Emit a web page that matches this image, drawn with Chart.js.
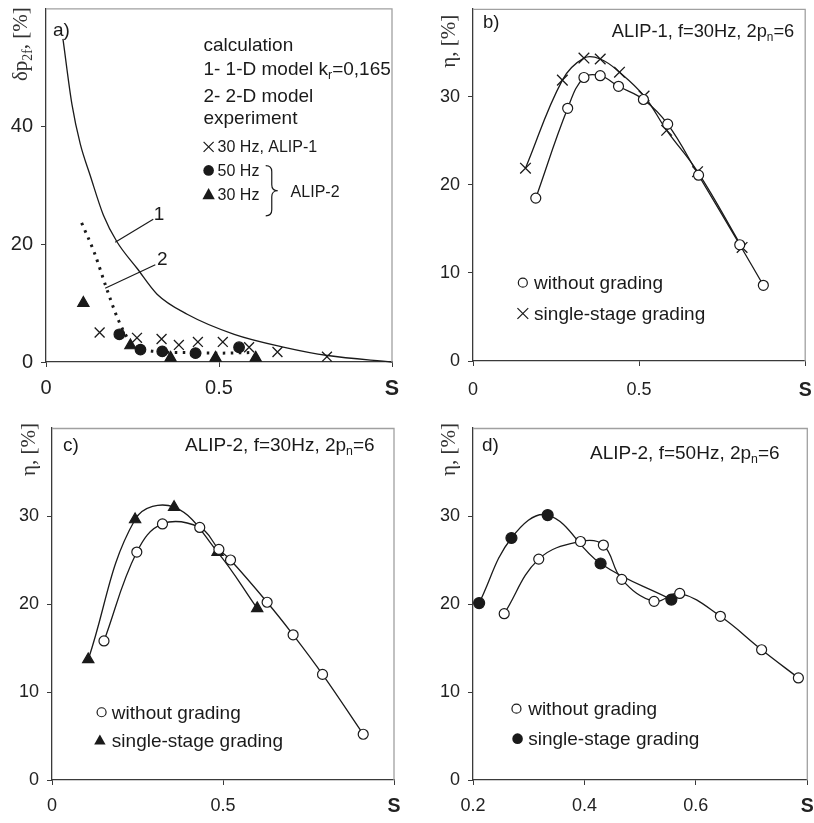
<!DOCTYPE html>
<html>
<head>
<meta charset="utf-8">
<script src="https://cdn.jsdelivr.net/npm/chart.js@4.4.1/dist/chart.umd.min.js"></script>
<style>
  html, body { margin: 0; padding: 0; background: #fff; }
  canvas { position: absolute; }
</style>
</head>
<body>
<canvas id="chartA" width="407" height="400" style="left:0;top:0"></canvas>
<canvas id="chartB" width="407" height="400" style="left:407px;top:0"></canvas>
<canvas id="chartC" width="407" height="423" style="left:0;top:400px"></canvas>
<canvas id="chartD" width="407" height="423" style="left:407px;top:400px"></canvas>
<script>
// a) additional losses vs slip: calculated curves and measured points
const aModel1S = [0.049, 0.075, 0.099, 0.128, 0.166, 0.205, 0.263, 0.321, 0.408, 0.544, 0.689, 0.814, 1.0];
const aModel1P = [54.8, 43.7, 37.0, 31.6, 24.9, 20.4, 15.9, 11.5, 8.1, 4.7, 2.5, 1.1, 0];
const aModel2S = [0.103, 0.14, 0.175, 0.21, 0.245, 0.29, 0.4, 0.5, 0.59];
const aModel2P = [23.6, 18.5, 12.5, 7.0, 3.3, 2.0, 1.6, 1.5, 1.6];
const aAlip1S = [0.155, 0.263, 0.334, 0.384, 0.439, 0.511, 0.587, 0.669, 0.812];
const aAlip1P = [5.0, 4.1, 3.9, 2.9, 3.4, 3.4, 2.5, 1.7, 0.9];
const aAlip2f50S = [0.212, 0.273, 0.336, 0.432, 0.558];
const aAlip2f50P = [4.7, 2.1, 1.8, 1.5, 2.5];
const aAlip2f30S = [0.108, 0.244, 0.36, 0.49, 0.606];
const aAlip2f30P = [10.0, 2.8, 0.7, 0.7, 0.7];

// b) ALIP-1, 30 Hz efficiency
const bPlainS = [0.189, 0.285, 0.334, 0.383, 0.438, 0.513, 0.586, 0.679, 0.803, 0.874];
const bPlainEta = [18.5, 28.7, 32.2, 32.4, 31.2, 29.7, 26.9, 21.1, 13.2, 8.6];
const bGradedS = [0.158, 0.269, 0.334, 0.383, 0.441, 0.515, 0.583, 0.676, 0.810];
const bGradedEta = [21.9, 31.9, 34.4, 34.3, 32.8, 30.1, 26.2, 21.5, 12.9];

// c) ALIP-2, 30 Hz efficiency
const cPlainS = [0.152, 0.248, 0.323, 0.432, 0.488, 0.522, 0.629, 0.705, 0.791, 0.91];
const cPlainEta = [15.8, 25.9, 29.1, 28.7, 26.2, 25.0, 20.2, 16.5, 12.0, 5.2];
const cGradedS = [0.106, 0.243, 0.357, 0.484, 0.6];
const cGradedEta = [13.7, 29.6, 31.0, 25.9, 19.5];

// d) ALIP-2, 50 Hz efficiency
const dPlainS = [0.256, 0.318, 0.393, 0.434, 0.467, 0.525, 0.571, 0.644, 0.718, 0.784];
const dPlainEta = [18.9, 25.1, 27.1, 26.7, 22.8, 20.3, 21.2, 18.6, 14.8, 11.6];
const dGradedS = [0.211, 0.269, 0.334, 0.429, 0.556];
const dGradedEta = [20.1, 27.5, 30.1, 24.6, 20.5];

// axis ticks
const aXTicks = [0, 0.5, 1];
const aYTicks = [0, 20, 40];
const bXTicks = [0, 0.5, 1];
const cXTicks = [0, 0.5, 1];
const dXTicks = [0.2, 0.4, 0.6, 0.8];
const etaTicks = [0, 10, 20, 30];

const SANS = "'Liberation Sans', Arial, sans-serif";
const SERIF = "'Liberation Serif', 'Times New Roman', serif";
const INK = '#1a1a1a';
const AXIS = '#3a3a3a';
const FRAME = '#a0a0a0';

const toPoints = (xs, ys) => xs.map((x, i) => ({ x, y: ys[i] }));

// Annotations drawn in data units (legends, labels, leaders), y titles in px from the plot edge.
const panelNotes = {
  chartA: [
    { type: 'ytitle', dx: 26, dy: -1, parts: [['δp'], ['2f', 1], [', [%]']] },
    { type: 'text', x: 0.02, y: 56.5, parts: [['a)']] },
    { type: 'text', x: 0.455, y: 53.8, parts: [['calculation']] },
    { type: 'text', x: 0.455, y: 49.8, parts: [['1- 1-D model k'], ['r', 1], ['=0,165']] },
    { type: 'text', x: 0.455, y: 45.3, parts: [['2- 2-D model']] },
    { type: 'text', x: 0.455, y: 41.5, parts: [['experiment']] },
    { type: 'mark', x: 0.47, y: 36.5, style: 'cross', r: 6.7 },
    { type: 'text', x: 0.496, y: 36.5, size: 16, parts: [['30 Hz, ALIP-1']] },
    { type: 'mark', x: 0.47, y: 32.5, style: 'dot', r: 5.3 },
    { type: 'text', x: 0.496, y: 32.5, size: 16, parts: [['50 Hz']] },
    { type: 'mark', x: 0.47, y: 28.4, style: 'triangle', r: 6.5 },
    { type: 'text', x: 0.496, y: 28.4, size: 16, parts: [['30 Hz']] },
    { type: 'brace', x1: 0.635, x2: 0.67, y1: 33.3, y2: 24.8 },
    { type: 'text', x: 0.707, y: 29, size: 16, parts: [['ALIP-2']] },
    { type: 'text', x: 0.327, y: 25.3, align: 'center', parts: [['1']] },
    { type: 'line', x1: 0.31, y1: 24.2, x2: 0.2, y2: 20.3 },
    { type: 'text', x: 0.336, y: 17.5, align: 'center', parts: [['2']] },
    { type: 'line', x1: 0.316, y1: 16.5, x2: 0.171, y2: 12.5 }
  ],
  chartB: [
    { type: 'ytitle', dx: 25, dy: 6, parts: [['η, [%]']] },
    { type: 'text', x: 0.03, y: 38.6, size: 18.5, parts: [['b)']] },
    { type: 'text', x: 0.418, y: 37.5, size: 18.3, parts: [['ALIP-1, f=30Hz, 2p'], ['n', 1], ['=6']] },
    { type: 'mark', x: 0.15, y: 8.9, style: 'ring', r: 4.5 },
    { type: 'text', x: 0.184, y: 8.9, parts: [['without grading']] },
    { type: 'mark', x: 0.15, y: 5.4, style: 'cross', r: 7.2 },
    { type: 'text', x: 0.184, y: 5.4, parts: [['single-stage grading']] }
  ],
  chartC: [
    { type: 'ytitle', dx: 24, dy: -5, parts: [['η, [%]']] },
    { type: 'text', x: 0.032, y: 38.1, parts: [['c)']] },
    { type: 'text', x: 0.389, y: 38.1, parts: [['ALIP-2, f=30Hz, 2p'], ['n', 1], ['=6']] },
    { type: 'mark', x: 0.145, y: 7.7, style: 'ring', r: 4.5 },
    { type: 'text', x: 0.175, y: 7.7, parts: [['without grading']] },
    { type: 'mark', x: 0.14, y: 4.5, style: 'triangle', r: 6 },
    { type: 'text', x: 0.175, y: 4.5, parts: [['single-stage grading']] }
  ],
  chartD: [
    { type: 'ytitle', dx: 25, dy: -5, parts: [['η, [%]']] },
    { type: 'text', x: 0.216, y: 38.1, parts: [['d)']] },
    { type: 'text', x: 0.41, y: 37.2, parts: [['ALIP-2, f=50Hz, 2p'], ['n', 1], ['=6']] },
    { type: 'mark', x: 0.278, y: 8.1, style: 'ring', r: 4.5 },
    { type: 'text', x: 0.299, y: 8.1, parts: [['without grading']] },
    { type: 'mark', x: 0.28, y: 4.7, style: 'dot', r: 5.3 },
    { type: 'text', x: 0.299, y: 4.7, parts: [['single-stage grading']] }
  ]
};

// Text with optional subscript pieces, vertically centred on y.
const drawRich = (ctx, parts, x, y, size, family, align) => {
  const pieces = parts.map(([t, sub]) => ({ t, sub, font: `${sub ? size * 0.65 : size}px ${family}` }));
  let width = 0;
  pieces.forEach(p => { ctx.font = p.font; p.w = ctx.measureText(p.t).width; width += p.w; });
  let cx = align === 'center' ? x - width / 2 : align === 'right' ? x - width : x;
  const base = y + size * 0.35;
  ctx.textAlign = 'left';
  ctx.textBaseline = 'alphabetic';
  pieces.forEach(p => {
    ctx.font = p.font;
    ctx.fillText(p.t, cx, p.sub ? base + size * 0.2 : base);
    cx += p.w;
  });
};

const drawMark = (ctx, style, x, y, r) => {
  ctx.beginPath();
  if (style === 'cross') {
    ctx.moveTo(x - r * 0.75, y - r * 0.75); ctx.lineTo(x + r * 0.75, y + r * 0.75);
    ctx.moveTo(x + r * 0.75, y - r * 0.75); ctx.lineTo(x - r * 0.75, y + r * 0.75);
    ctx.stroke();
  } else if (style === 'triangle') {
    ctx.moveTo(x, y - r); ctx.lineTo(x + r * 0.95, y + r * 0.7); ctx.lineTo(x - r * 0.95, y + r * 0.7);
    ctx.closePath(); ctx.fill();
  } else {
    ctx.arc(x, y, r, 0, Math.PI * 2);
    if (style === 'dot') ctx.fill(); else ctx.stroke();
  }
};

const notesPlugin = {
  id: 'notes',
  afterDraw(chart) {
    const { ctx, chartArea: area, scales: { x, y } } = chart;
    ctx.save();
    // grey frame on top and right
    ctx.strokeStyle = FRAME;
    ctx.lineWidth = 1.3;
    ctx.beginPath();
    ctx.moveTo(area.left, area.top + 0.5);
    ctx.lineTo(area.right, area.top + 0.5);
    ctx.lineTo(area.right, area.bottom);
    ctx.stroke();

    ctx.fillStyle = INK;
    ctx.strokeStyle = INK;
    ctx.lineWidth = 1.2;
    (panelNotes[chart.canvas.id] || []).forEach(n => {
      if (n.type === 'ytitle') {
        ctx.save();
        ctx.translate(area.left - n.dx, area.top + n.dy);
        ctx.rotate(-Math.PI / 2);
        ctx.fillStyle = '#333';
        drawRich(ctx, n.parts, 0, 0, 21, SERIF, 'right');
        ctx.restore();
      } else if (n.type === 'text') {
        drawRich(ctx, n.parts, x.getPixelForValue(n.x), y.getPixelForValue(n.y), n.size || 19, SANS, n.align || 'left');
      } else if (n.type === 'mark') {
        drawMark(ctx, n.style, x.getPixelForValue(n.x), y.getPixelForValue(n.y), n.r);
      } else if (n.type === 'line') {
        ctx.beginPath();
        ctx.moveTo(x.getPixelForValue(n.x1), y.getPixelForValue(n.y1));
        ctx.lineTo(x.getPixelForValue(n.x2), y.getPixelForValue(n.y2));
        ctx.stroke();
      } else if (n.type === 'brace') {
        const x1 = x.getPixelForValue(n.x1), x2 = x.getPixelForValue(n.x2);
        const top = y.getPixelForValue(n.y1), bot = y.getPixelForValue(n.y2);
        const xm = (x1 + x2) / 2, mid = (top + bot) / 2, r = 6;
        ctx.beginPath();
        ctx.moveTo(x1, top);
        ctx.quadraticCurveTo(xm, top, xm, top + r);
        ctx.lineTo(xm, mid - r);
        ctx.quadraticCurveTo(xm, mid, x2, mid);
        ctx.quadraticCurveTo(xm, mid, xm, mid + r);
        ctx.lineTo(xm, bot - r);
        ctx.quadraticCurveTo(xm, bot, x1, bot);
        ctx.stroke();
      }
    });
    ctx.restore();
  }
};

const makeScales = (xMin, xMax, xTicks, yMax, yTicks, yWidth, xHeight, xPad, tickSize) => ({
  x: {
    type: 'linear',
    min: xMin,
    max: xMax,
    afterBuildTicks: s => { s.ticks = xTicks.map(v => ({ value: v })); },
    afterFit: s => { s.height = xHeight; s.paddingLeft = 0; s.paddingRight = 0; },
    ticks: {
      autoSkip: false,
      maxRotation: 0,
      padding: xPad,
      color: '#222',
      callback: v => (v === xMax ? 'S' : String(v)),
      font: c => (c.tick && c.tick.value === xMax
        ? { family: SANS, size: tickSize + 1.5, weight: 'bold' }
        : { family: SANS, size: tickSize })
    },
    grid: { drawOnChartArea: false, tickLength: 5, color: AXIS },
    border: { color: AXIS, width: 1.3 }
  },
  y: {
    type: 'linear',
    min: 0,
    max: yMax,
    afterBuildTicks: s => { s.ticks = yTicks.map(v => ({ value: v })); },
    afterFit: s => { s.width = yWidth; s.paddingTop = 0; s.paddingBottom = 0; },
    ticks: { padding: 8, color: '#222', font: { family: SANS, size: tickSize } },
    grid: { drawOnChartArea: false, tickLength: 5, color: AXIS },
    border: { color: AXIS, width: 1.3 }
  }
});

const lineSet = (data, extra) => Object.assign({
  data,
  showLine: true,
  tension: 0.4,
  borderColor: INK,
  borderWidth: 1.3,
  pointRadius: 5,
  pointBorderWidth: 1.2,
  pointBorderColor: INK,
  pointBackgroundColor: '#fff',
  clip: false
}, extra);

const makeChart = (id, datasets, scales, padding) => new Chart(document.getElementById(id), {
  type: 'scatter',
  data: { datasets },
  options: {
    responsive: false,
    animation: false,
    layout: { padding },
    plugins: { legend: { display: false }, tooltip: { enabled: false } },
    scales
  },
  plugins: [notesPlugin]
});

const renderCharts = () => {
  makeChart('chartA', [
    lineSet(toPoints(aModel1S, aModel1P), { pointRadius: 0, cubicInterpolationMode: 'monotone' }),
    lineSet(toPoints(aModel2S, aModel2P), { pointRadius: 0, borderWidth: 3, borderDash: [2.5, 5.5], cubicInterpolationMode: 'monotone' }),
    lineSet(toPoints(aAlip1S, aAlip1P), { showLine: false, pointStyle: 'crossRot', pointRadius: 7, pointBorderWidth: 1.3 }),
    lineSet(toPoints(aAlip2f50S, aAlip2f50P), { showLine: false, pointBackgroundColor: INK, pointRadius: 5.3 }),
    lineSet(toPoints(aAlip2f30S, aAlip2f30P), { showLine: false, pointStyle: 'triangle', pointBackgroundColor: INK, pointRadius: 6.5 })
  ], makeScales(0, 1, aXTicks, 60, aYTicks, 46, 38, 9, 20), { top: 4, right: 15 });

  makeChart('chartB', [
    lineSet(toPoints(bPlainS, bPlainEta)),
    lineSet(toPoints(bGradedS, bGradedEta), { pointStyle: 'crossRot', pointRadius: 7.5, pointBorderWidth: 1.3 })
  ], makeScales(0, 1, bXTicks, 40, etaTicks, 66, 39, 13, 18), { top: 6, right: 1 });

  makeChart('chartC', [
    lineSet(toPoints(cPlainS, cPlainEta)),
    lineSet(toPoints(cGradedS, cGradedEta), { pointStyle: 'triangle', pointBackgroundColor: INK, pointRadius: 6.5 })
  ], makeScales(0, 1, cXTicks, 40, etaTicks, 52, 43, 10, 18), { top: 28, right: 13 });

  makeChart('chartD', [
    lineSet(toPoints(dPlainS, dPlainEta)),
    lineSet(toPoints(dGradedS, dGradedEta), { pointBackgroundColor: INK, pointRadius: 5.5 })
  ], makeScales(0.2, 0.8, dXTicks, 40, etaTicks, 66, 43, 10, 18), { top: 28, right: 2 });
};

if (document.readyState === 'loading') {
  document.addEventListener('DOMContentLoaded', renderCharts);
} else {
  renderCharts();
}
</script>
</body>
</html>
